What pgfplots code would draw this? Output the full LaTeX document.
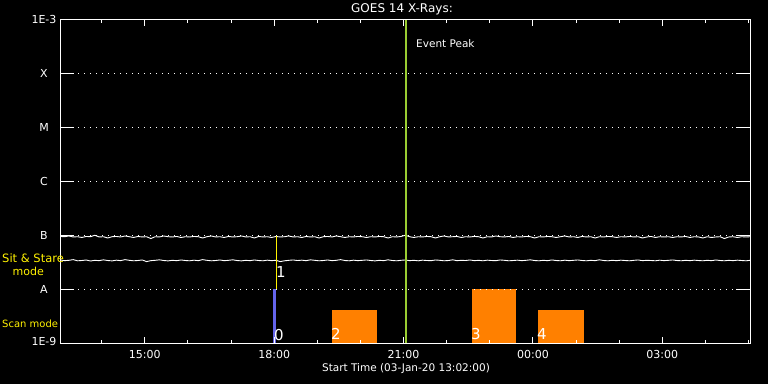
\documentclass[border=0pt]{standalone}
\usepackage{pgfplots}
\pgfplotsset{compat=1.18}
\usepackage{pgfplotstable}
\usepackage{fontspec}
\setmainfont{DejaVu Sans}
\definecolor{eventgreen}{RGB}{154,205,50}
\definecolor{scanblue}{RGB}{100,100,235}
\definecolor{barorange}{RGB}{255,128,0}
\pgfplotstableread{
t u l
13.04 9.4e-8 3.45e-8
13.14 9.3e-8 3.35e-8
13.24 9.6e-8 3.40e-8
13.34 9.2e-8 3.50e-8
13.44 9.3e-8 3.33e-8
13.54 9.0e-8 3.37e-8
13.64 9.4e-8 3.45e-8
13.74 9.3e-8 3.30e-8
13.84 9.9e-8 3.40e-8
13.94 9.2e-8 3.35e-8
14.04 9.3e-8 3.47e-8
14.14 8.8e-8 3.37e-8
14.24 9.3e-8 3.32e-8
14.34 9.4e-8 3.42e-8
14.44 9.2e-8 3.35e-8
14.54 9.6e-8 3.50e-8
14.64 9.3e-8 3.40e-8
14.74 9.0e-8 3.33e-8
14.84 9.4e-8 3.37e-8
14.94 9.2e-8 3.45e-8
15.04 9.3e-8 3.22e-8
15.14 8.6e-8 3.35e-8
15.24 9.3e-8 3.40e-8
15.34 9.2e-8 3.47e-8
15.44 9.6e-8 3.37e-8
15.54 9.3e-8 3.32e-8
15.64 9.2e-8 3.40e-8
15.74 9.4e-8 3.35e-8
15.84 9.0e-8 3.45e-8
15.94 9.3e-8 3.37e-8
16.04 9.2e-8 3.33e-8
16.14 9.4e-8 3.42e-8
16.24 9.3e-8 3.35e-8
16.34 8.8e-8 3.50e-8
16.44 9.3e-8 3.40e-8
16.54 9.6e-8 3.33e-8
16.64 9.2e-8 3.37e-8
16.74 9.3e-8 3.45e-8
16.84 9.0e-8 3.35e-8
16.94 9.4e-8 3.40e-8
17.04 9.2e-8 3.47e-8
17.14 9.3e-8 3.37e-8
17.24 9.6e-8 3.32e-8
17.34 9.2e-8 3.40e-8
17.44 9.3e-8 3.35e-8
17.54 8.8e-8 3.45e-8
17.64 9.4e-8 3.37e-8
17.74 9.2e-8 3.33e-8
17.84 9.3e-8 3.42e-8
17.94 9.0e-8 3.35e-8
18.04 9.4e-8 3.40e-8
18.14 9.2e-8 3.22e-8
18.24 9.3e-8 3.33e-8
18.34 9.6e-8 3.40e-8
18.44 9.2e-8 3.45e-8
18.54 9.3e-8 3.37e-8
18.64 9.0e-8 3.42e-8
18.74 9.4e-8 3.35e-8
18.84 9.2e-8 3.47e-8
18.94 9.3e-8 3.40e-8
19.04 8.8e-8 3.33e-8
19.14 9.3e-8 3.37e-8
19.24 9.4e-8 3.45e-8
19.34 9.2e-8 3.35e-8
19.44 9.6e-8 3.40e-8
19.54 9.3e-8 3.50e-8
19.64 9.0e-8 3.37e-8
19.74 9.3e-8 3.33e-8
19.84 9.2e-8 3.42e-8
19.94 9.4e-8 3.35e-8
20.04 9.3e-8 3.40e-8
20.14 9.0e-8 3.45e-8
20.24 9.3e-8 3.37e-8
20.34 9.2e-8 3.32e-8
20.44 9.4e-8 3.40e-8
20.54 9.3e-8 3.35e-8
20.64 8.8e-8 3.47e-8
20.74 9.3e-8 3.37e-8
20.84 9.2e-8 3.33e-8
20.94 9.4e-8 3.40e-8
21.04 9.9e-8 3.45e-8
21.14 9.3e-8 3.35e-8
21.24 9.0e-8 3.40e-8
21.34 9.3e-8 3.33e-8
21.44 9.2e-8 3.42e-8
21.54 9.4e-8 3.37e-8
21.64 9.3e-8 3.35e-8
21.74 8.8e-8 3.45e-8
21.84 9.3e-8 3.40e-8
21.94 9.6e-8 3.33e-8
22.04 9.2e-8 3.37e-8
22.14 9.3e-8 3.47e-8
22.24 9.4e-8 3.35e-8
22.34 9.0e-8 3.40e-8
22.44 9.3e-8 3.37e-8
22.54 9.2e-8 3.45e-8
22.64 9.4e-8 3.35e-8
22.74 9.3e-8 3.40e-8
22.84 8.8e-8 3.33e-8
22.94 9.3e-8 3.42e-8
23.04 9.2e-8 3.37e-8
23.14 9.6e-8 3.35e-8
23.24 9.3e-8 3.45e-8
23.34 9.2e-8 3.40e-8
23.44 9.4e-8 3.33e-8
23.54 9.0e-8 3.37e-8
23.64 9.3e-8 3.42e-8
23.74 9.2e-8 3.35e-8
23.84 9.4e-8 3.40e-8
23.94 9.3e-8 3.47e-8
24.04 8.8e-8 3.37e-8
24.14 9.3e-8 3.33e-8
24.24 9.2e-8 3.40e-8
24.34 9.4e-8 3.35e-8
24.44 9.3e-8 3.45e-8
24.54 9.0e-8 3.37e-8
24.64 9.3e-8 3.33e-8
24.74 9.6e-8 3.42e-8
24.84 9.2e-8 3.35e-8
24.94 9.3e-8 3.40e-8
25.04 9.0e-8 3.45e-8
25.14 9.4e-8 3.37e-8
25.24 9.2e-8 3.33e-8
25.34 9.3e-8 3.40e-8
25.44 8.8e-8 3.35e-8
25.54 9.3e-8 3.47e-8
25.64 9.2e-8 3.37e-8
25.74 9.4e-8 3.33e-8
25.84 9.3e-8 3.40e-8
25.94 9.0e-8 3.35e-8
26.04 9.3e-8 3.42e-8
26.14 9.2e-8 3.37e-8
26.24 9.4e-8 3.33e-8
26.34 9.2e-8 3.40e-8
26.44 9.3e-8 3.45e-8
26.54 8.8e-8 3.35e-8
26.64 9.2e-8 3.40e-8
26.74 9.4e-8 3.37e-8
26.84 9.0e-8 3.33e-8
26.94 9.3e-8 3.42e-8
27.04 9.2e-8 3.35e-8
27.14 9.3e-8 3.40e-8
27.24 9.0e-8 3.45e-8
27.34 9.3e-8 3.37e-8
27.44 9.2e-8 3.33e-8
27.54 9.4e-8 3.40e-8
27.64 9.0e-8 3.35e-8
27.74 9.3e-8 3.42e-8
27.84 9.2e-8 3.37e-8
27.94 8.8e-8 3.33e-8
28.04 9.3e-8 3.40e-8
28.14 9.0e-8 3.35e-8
28.24 9.2e-8 3.45e-8
28.34 9.3e-8 3.37e-8
28.44 8.6e-8 3.33e-8
28.54 9.2e-8 3.40e-8
28.64 9.3e-8 3.35e-8
28.74 9.0e-8 3.42e-8
28.84 9.3e-8 3.37e-8
28.94 9.2e-8 3.33e-8
29.04 9.3e-8 3.40e-8
}\goesdata
\begin{document}
\begin{tikzpicture}[x=1pt,y=1pt]
\fill[black] (0,0) rectangle (768,384);
\useasboundingbox (0,0) rectangle (768,384);
\begin{axis}[
  at={(60pt,41pt)}, anchor=south west,
  scale only axis, width=690pt, height=324pt,
  xmin=13.0333, xmax=29.0333,
  ymode=log, ymin=1e-9, ymax=1e-3,
  axis line style={white, line width=1pt},
  axis on top,
  xtick={15,18,21,24,27},
  xticklabels={15:00,18:00,21:00,00:00,03:00},
  minor xtick={14,16,17,19,20,22,23,25,26,28,29},
  ytick={1e-9,1e-8,1e-7,1e-6,1e-5,1e-4,1e-3},
  yticklabels={\raisebox{3.3pt}{1E-9},A,B,C,M,X,\raisebox{-4pt}{1E-3}},
  yminorticks=false,
  major tick length=6.5pt, minor tick length=3.5pt,
  ytick style={/pgfplots/major tick length=14.5pt},
  tick style={white, line width=1pt},
  ymajorgrids,
  major grid style={white, line width=1pt, dash pattern=on 1pt off 5pt},
  /pgf/number format/assume math mode=true,
  tick label style={text=white, font=\fontsize{11}{13}\selectfont},
  xticklabel style={anchor=north, inner sep=0pt, yshift=-7.5pt},
  yticklabel style={anchor=center, inner sep=0pt, xshift=-16pt},
]
\addplot[white, line width=0.9pt] table[x=t, y=u] {\goesdata};
\addplot[white, line width=0.9pt] table[x=t, y=l] {\goesdata};
\addplot[draw=none, fill=barorange] coordinates {(19.34,1e-9) (19.34,4.08e-9) (20.38,4.08e-9) (20.38,1e-9)} -- cycle;
\addplot[draw=none, fill=barorange] coordinates {(22.59,1e-9) (22.59,1e-8) (23.61,1e-8) (23.61,1e-9)} -- cycle;
\addplot[draw=none, fill=barorange] coordinates {(24.12,1e-9) (24.12,4.08e-9) (25.18,4.08e-9) (25.18,1e-9)} -- cycle;
\addplot[draw=none, fill=scanblue] coordinates {(17.97,1e-9) (17.97,1e-8) (18.04,1e-8) (18.04,1e-9)} -- cycle;
\addplot[yellow, line width=1pt] coordinates {(18.05,1e-8) (18.05,9.4e-8)};
\addplot[eventgreen, line width=2pt] coordinates {(21.045,1e-9) (21.045,1e-3)};
\end{axis}
\node[white, font=\fontsize{12}{14}\selectfont] at (402,375) {GOES 14 X-Rays:};
\node[white, font=\fontsize{10.5}{12}\selectfont] at (406,15) {Start Time (03-Jan-20 13:02:00)};
\node[white, anchor=base west, inner sep=0pt, font=\fontsize{10.5}{12}\selectfont] at (416,336.7) {Event Peak};
\node[yellow, anchor=base west, inner sep=0pt, font=\fontsize{11.5}{13}\selectfont] at (2,122) {Sit \& Stare};
\node[yellow, anchor=base west, inner sep=0pt, font=\fontsize{11}{13}\selectfont] at (12.5,109) {mode};
\node[yellow, anchor=base west, inner sep=0pt, font=\fontsize{10}{12}\selectfont] at (2,57) {Scan mode};
\node[white, anchor=base west, inner sep=0pt, font=\fontsize{15}{17}\selectfont] at (274,44) {0};
\node[white, anchor=base west, inner sep=0pt, font=\fontsize{15}{17}\selectfont] at (276,107) {1};
\node[white, anchor=base west, inner sep=0pt, font=\fontsize{15}{17}\selectfont] at (331,44.5) {2};
\node[white, anchor=base west, inner sep=0pt, font=\fontsize{15}{17}\selectfont] at (471,44.5) {3};
\node[white, anchor=base west, inner sep=0pt, font=\fontsize{15}{17}\selectfont] at (537,44.5) {4};
\end{tikzpicture}
\end{document}
